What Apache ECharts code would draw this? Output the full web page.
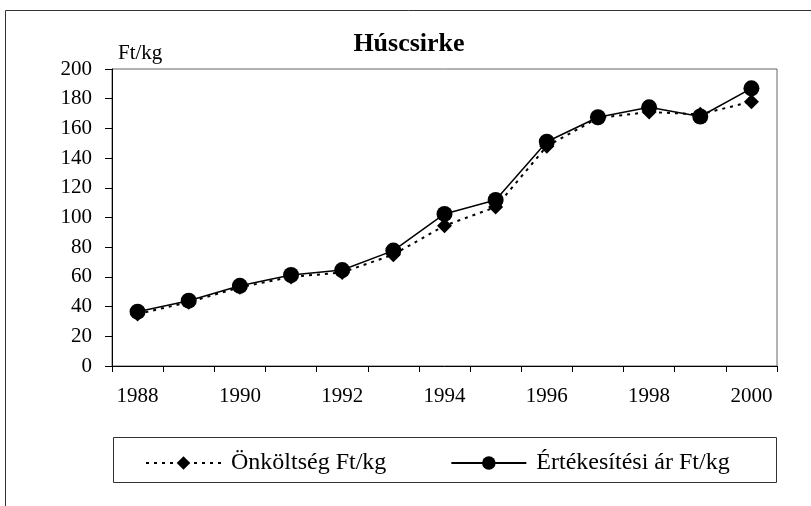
<!DOCTYPE html>
<html>
<head>
<meta charset="utf-8">
<script src="https://cdn.jsdelivr.net/npm/echarts@6/dist/echarts.min.js"></script>
<style>
  html, body { margin: 0; padding: 0; background: #fff; }
  #chart { width: 811px; height: 506px; }
</style>
</head>
<body>
<div id="chart"></div>
<script>
  // data
  const years = ['1988', '1989', '1990', '1991', '1992', '1993', '1994',
    '1995', '1996', '1997', '1998', '1999', '2000']
  const onkoltseg = [35, 43, 53, 60, 63, 75, 94.5, 107, 148, 167, 171, 169.5, 178]
  const ertekesitesi = [36.6, 44, 54, 61.3, 64.6, 77.7, 102.4, 111.8, 151, 167.5, 174.2, 168, 187]

  const serif = "'Liberation Serif', 'Times New Roman', serif"

  let option = {
    backgroundColor: '#fff',
    animation: false,
    textStyle: { fontFamily: serif, color: '#000' },
    title: {
      text: 'Húscsirke',
      left: 404,
      top: 26,
      textAlign: 'center',
      textStyle: { fontFamily: serif, fontSize: 26, fontWeight: 'bold', color: '#000' }
    },
    graphic: [
      {
        type: 'rect',
        shape: { x: 5.5, y: 10.5, width: 900, height: 600 },
        style: { fill: 'none', stroke: '#333', lineWidth: 1 },
        silent: true
      },
      {
        type: 'rect',
        shape: { x: 113.5, y: 437.5, width: 663, height: 45 },
        style: { fill: 'none', stroke: '#333', lineWidth: 1 },
        silent: true
      },
      {
        type: 'text',
        left: 118,
        top: 43,
        style: { text: 'Ft/kg', font: '21px ' + serif, fill: '#000' }
      }
    ],
    grid: {
      left: 112,
      right: 34,
      top: 69,
      height: 297,
      show: true,
      borderColor: '#666',
      borderWidth: 1
    },
    legend: {
      left: 140,
      top: 446,
      itemGap: 64,
      itemWidth: 75,
      itemHeight: 17,
      textStyle: { fontFamily: serif, fontSize: 24, color: '#000', padding: [0, 0, 0, 5] },
      data: ['Önköltség Ft/kg', 'Értékesítési ár Ft/kg']
    },
    xAxis: {
      type: 'category',
      data: years,
      boundaryGap: true,
      axisLine: { lineStyle: { color: '#000' } },
      axisTick: { show: true, interval: 0, length: 6, lineStyle: { color: '#000' } },
      axisLabel: { interval: 1, margin: 20, fontFamily: serif, fontSize: 21, color: '#000' },
      splitLine: { show: false }
    },
    yAxis: {
      type: 'value',
      min: 0,
      max: 200,
      interval: 20,
      axisLine: { show: true, lineStyle: { color: '#000' } },
      axisTick: { show: true, length: 7, lineStyle: { color: '#000' } },
      axisLabel: { margin: 20, fontFamily: serif, fontSize: 21, color: '#000' },
      splitLine: { show: false }
    },
    series: [{
      name: 'Önköltség Ft/kg',
      type: 'line',
      data: onkoltseg,
      symbol: 'diamond',
      symbolSize: 15,
      z: 2,
      lineStyle: { color: '#000', width: 2, type: [3, 5] },
      itemStyle: { color: '#000' }
    }, {
      name: 'Értékesítési ár Ft/kg',
      type: 'line',
      data: ertekesitesi,
      symbol: 'circle',
      symbolSize: 16,
      z: 3,
      lineStyle: { color: '#000', width: 1.5 },
      itemStyle: { color: '#000' }
    }]
  }

  let chart = echarts.init(document.getElementById('chart'))
  chart.setOption(option)
</script>
</body>
</html>
